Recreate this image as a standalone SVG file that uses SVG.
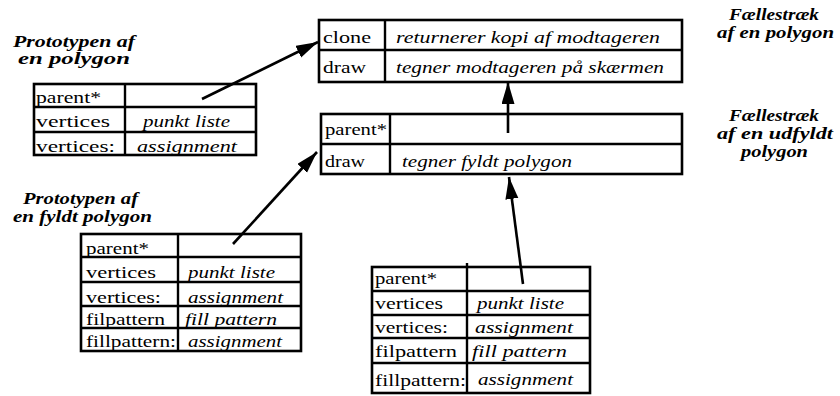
<svg xmlns="http://www.w3.org/2000/svg" width="840" height="396" viewBox="0 0 840 396">
  <style>
    .frame { fill: #fff; stroke: #000; stroke-width: 2.6; }
    .rule { stroke: #000; stroke-width: 2.4; }
    text { font-family: "Times New Roman", Tinos, "Liberation Serif", "Nimbus Roman", "Noto Serif", FreeSerif, "DejaVu Serif", Times, serif; fill: #000; }
    .slot { font-size: 17px; }
    .val { font-size: 17px; font-style: italic; }
    .title { font-size: 16px; font-weight: bold; font-style: italic; }
    .link { stroke: #000; stroke-width: 2.6; fill: none; marker-end: url(#head); }
  </style>
  <defs>
    <marker id="head" markerUnits="userSpaceOnUse" markerWidth="24" markerHeight="14" refX="22" refY="6.5" orient="auto">
      <path d="M0,0 L22,6.5 L0,13 Z" fill="#000"/>
    </marker>
  </defs>

  <!-- captions -->
  <g id="captions">
    <text class="title" x="13" y="47" textLength="122" lengthAdjust="spacingAndGlyphs">Prototypen af</text>
    <text class="title" x="18" y="64" textLength="112" lengthAdjust="spacingAndGlyphs">en polygon</text>
    <text class="title" x="23" y="204" textLength="115" lengthAdjust="spacingAndGlyphs">Prototypen af</text>
    <text class="title" x="13" y="222" textLength="139" lengthAdjust="spacingAndGlyphs">en fyldt polygon</text>
    <text class="title" x="729" y="20" textLength="90" lengthAdjust="spacingAndGlyphs">Fællestræk</text>
    <text class="title" x="717" y="38" textLength="117" lengthAdjust="spacingAndGlyphs">af en polygon</text>
    <text class="title" x="729" y="121" textLength="90" lengthAdjust="spacingAndGlyphs">Fællestræk</text>
    <text class="title" x="717" y="139" textLength="116" lengthAdjust="spacingAndGlyphs">af en udfyldt</text>
    <text class="title" x="741" y="157" textLength="67" lengthAdjust="spacingAndGlyphs">polygon</text>
  </g>

  <!-- shared traits of a polygon -->
  <g id="polygon-traits">
    <rect class="frame" x="319" y="20" width="363" height="62"/>
    <line class="rule" x1="319" y1="50" x2="682" y2="50"/>
    <line class="rule" x1="385" y1="20" x2="385" y2="82"/>
    <text class="slot" x="323" y="43" textLength="48" lengthAdjust="spacingAndGlyphs">clone</text>
    <text class="val" x="396" y="43" textLength="264" lengthAdjust="spacingAndGlyphs">returnerer kopi af  modtageren</text>
    <text class="slot" x="323" y="73" textLength="43" lengthAdjust="spacingAndGlyphs">draw</text>
    <text class="val" x="396" y="73" textLength="268" lengthAdjust="spacingAndGlyphs">tegner modtageren på skærmen</text>
  </g>

  <!-- shared traits of a filled polygon -->
  <g id="filled-traits">
    <rect class="frame" x="321" y="114" width="361" height="60"/>
    <line class="rule" x1="321" y1="144" x2="682" y2="144"/>
    <line class="rule" x1="390" y1="114" x2="390" y2="174"/>
    <text class="slot" x="325" y="135" textLength="62" lengthAdjust="spacingAndGlyphs">parent*</text>
    <text class="slot" x="325" y="167" textLength="40" lengthAdjust="spacingAndGlyphs">draw</text>
    <text class="val" x="402" y="167" textLength="170" lengthAdjust="spacingAndGlyphs">tegner fyldt polygon</text>
  </g>

  <!-- polygon prototype -->
  <g id="polygon-proto">
    <rect class="frame" x="34" y="84" width="222" height="71"/>
    <line class="rule" x1="34" y1="107" x2="256" y2="107"/>
    <line class="rule" x1="34" y1="132" x2="256" y2="132"/>
    <line class="rule" x1="125" y1="84" x2="125" y2="155"/>
    <text class="slot" x="36" y="103" textLength="65" lengthAdjust="spacingAndGlyphs">parent*</text>
    <text class="slot" x="36" y="127" textLength="74" lengthAdjust="spacingAndGlyphs">vertices</text>
    <text class="val" x="143" y="127" textLength="87" lengthAdjust="spacingAndGlyphs">punkt liste</text>
    <text class="slot" x="36" y="152" textLength="79" lengthAdjust="spacingAndGlyphs">vertices:</text>
    <text class="val" x="137" y="152" textLength="100" lengthAdjust="spacingAndGlyphs">assignment</text>
  </g>

  <!-- filled polygon prototype -->
  <g id="filled-proto">
    <rect class="frame" x="81" y="234" width="220" height="117"/>
    <line class="rule" x1="81" y1="257" x2="301" y2="257"/>
    <line class="rule" x1="81" y1="282" x2="301" y2="282"/>
    <line class="rule" x1="81" y1="306" x2="301" y2="306"/>
    <line class="rule" x1="81" y1="328" x2="301" y2="328"/>
    <line class="rule" x1="178" y1="234" x2="178" y2="351"/>
    <text class="slot" x="86" y="254" textLength="63" lengthAdjust="spacingAndGlyphs">parent*</text>
    <text class="slot" x="86" y="278" textLength="70" lengthAdjust="spacingAndGlyphs">vertices</text>
    <text class="val" x="188" y="278" textLength="87" lengthAdjust="spacingAndGlyphs">punkt liste</text>
    <text class="slot" x="86" y="303" textLength="75" lengthAdjust="spacingAndGlyphs">vertices:</text>
    <text class="val" x="188" y="303" textLength="95" lengthAdjust="spacingAndGlyphs">assignment</text>
    <text class="slot" x="86" y="325" textLength="79" lengthAdjust="spacingAndGlyphs">filpattern</text>
    <text class="val" x="185" y="325" textLength="92" lengthAdjust="spacingAndGlyphs">fill pattern</text>
    <text class="slot" x="86" y="347" textLength="90" lengthAdjust="spacingAndGlyphs">fillpattern:</text>
    <text class="val" x="188" y="347" textLength="94" lengthAdjust="spacingAndGlyphs">assignment</text>
  </g>

  <!-- filled polygon instance -->
  <g id="filled-instance">
    <rect class="frame" x="372" y="267" width="218" height="126"/>
    <line class="rule" x1="372" y1="291" x2="590" y2="291"/>
    <line class="rule" x1="372" y1="315" x2="590" y2="315"/>
    <line class="rule" x1="372" y1="338" x2="590" y2="338"/>
    <line class="rule" x1="372" y1="363" x2="590" y2="363"/>
    <line class="rule" x1="467" y1="263" x2="467" y2="393"/>
    <text class="slot" x="375" y="284" textLength="62" lengthAdjust="spacingAndGlyphs">parent*</text>
    <text class="slot" x="375" y="309" textLength="68" lengthAdjust="spacingAndGlyphs">vertices</text>
    <text class="val" x="477" y="309" textLength="87" lengthAdjust="spacingAndGlyphs">punkt liste</text>
    <text class="slot" x="375" y="333" textLength="73" lengthAdjust="spacingAndGlyphs">vertices:</text>
    <text class="val" x="475" y="333" textLength="98" lengthAdjust="spacingAndGlyphs">assignment</text>
    <text class="slot" x="375" y="357" textLength="82" lengthAdjust="spacingAndGlyphs">filpattern</text>
    <text class="val" x="472" y="357" textLength="95" lengthAdjust="spacingAndGlyphs">fill pattern</text>
    <text class="slot" x="375" y="386" textLength="91" lengthAdjust="spacingAndGlyphs">fillpattern:</text>
    <text class="val" x="478" y="385" textLength="95" lengthAdjust="spacingAndGlyphs">assignment</text>
  </g>

  <!-- parent links -->
  <g id="connectors">
    <line class="link" x1="202" y1="99" x2="318" y2="42"/>
    <line class="link" x1="233" y1="244" x2="317" y2="152"/>
    <line class="link" x1="523" y1="284" x2="509" y2="177"/>
    <line class="link" x1="508" y1="133" x2="508" y2="82"/>
  </g>
</svg>
